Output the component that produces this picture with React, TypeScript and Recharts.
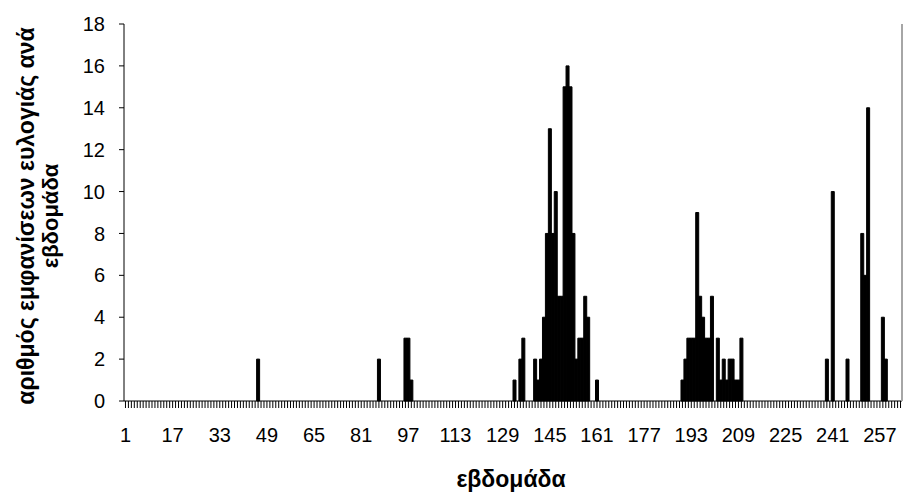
import { Bar, BarChart, Label, XAxis, YAxis } from "recharts";

const TOTAL_WEEKS = 264;

// weeks with at least one case; every other week is 0
const caseWeeks = [
  46, 87, 96, 97, 98, 133, 135, 136, 140, 141, 142, 143, 144, 145, 146, 147,
  148, 149, 150, 151, 152, 153, 154, 155, 156, 157, 158, 161, 190, 191, 192,
  193, 194, 195, 196, 197, 198, 199, 200, 202, 203, 204, 205, 206, 207, 208,
  209, 210, 239, 241, 246, 251, 252, 253, 258, 259,
];
const caseCounts = [
  2, 2, 3, 3, 1, 1, 2, 3, 2, 1, 2, 4, 8, 13, 8, 10,
  5, 5, 15, 16, 15, 8, 2, 3, 3, 5, 4, 1, 1, 2, 3,
  3, 3, 9, 5, 4, 3, 3, 5, 3, 1, 2, 1, 2, 2, 1,
  1, 3, 2, 10, 2, 8, 6, 14, 4, 2,
];
const yTicks = [0, 2, 4, 6, 8, 10, 12, 14, 16, 18];
const LABEL_EVERY = 16;

const yTitle = "αριθμός εμφανίσεων ευλογιάς ανά";
const yTitle2 = "εβδομάδα";
const xTitle = "εβδομάδα";

const FONT = "'Liberation Sans', Arial, sans-serif";

const chartData = Array.from({ length: TOTAL_WEEKS }, (_, i) => {
  const week = i + 1;
  const idx = caseWeeks.indexOf(week);
  return { week: String(week), count: idx >= 0 ? caseCounts[idx] : 0 };
});

function WeekTick(props: any) {
  const { x, y, payload, index } = props;
  if (index % LABEL_EVERY !== 0) return <g />;
  return (
    <text
      x={x}
      y={y}
      dy="0.71em"
      textAnchor="middle"
      fill="#000"
      fontSize={20}
      fontFamily={FONT}
    >
      {payload.value}
    </text>
  );
}

export default function App() {
  return (
    <div style={{ position: "absolute", left: 0, top: 0, background: "#fff" }}>
      <BarChart
        width={911}
        height={492}
        data={chartData}
        barCategoryGap={0}
        margin={{ top: 24, right: 8, left: 0, bottom: 0 }}
      >
        <XAxis
          dataKey="week"
          interval={0}
          tick={<WeekTick />}
          tickLine={{ stroke: "#000" }}
          axisLine={{ stroke: "#000" }}
          tickSize={7}
          tickMargin={20}
          height={91}
        >
          <Label
            content={() => (
              <text
                x={511}
                y={479}
                textAnchor="middle"
                dominantBaseline="central"
                fontSize={23}
                fontWeight="bold"
                fontFamily={FONT}
                fill="#000"
              >
                {xTitle}
              </text>
            )}
          />
        </XAxis>
        <YAxis
          yAxisId="l"
          domain={[0, 18]}
          ticks={yTicks}
          interval={0}
          width={124}
          tickSize={5}
          tickMargin={14}
          tickLine={{ stroke: "#000" }}
          axisLine={{ stroke: "#000" }}
          tick={{ fill: "#000", fontSize: 20, fontFamily: FONT }}
        >
          <Label
            content={() => (
              <g fontWeight="bold" fontFamily={FONT} fill="#000">
                <text
                  transform="translate(26,216) rotate(-90)"
                  textAnchor="middle"
                  dominantBaseline="central"
                  fontSize={23}
                >
                  {yTitle}
                </text>
                <text
                  transform="translate(50,216) rotate(-90)"
                  textAnchor="middle"
                  dominantBaseline="central"
                  fontSize={22}
                >
                  {yTitle2}
                </text>
              </g>
            )}
          />
        </YAxis>
        <YAxis
          yAxisId="r"
          orientation="right"
          domain={[0, 18]}
          width={1}
          tick={false}
          tickLine={false}
          axisLine={{ stroke: "#a6a6a6", strokeWidth: 2 }}
        />
        <Bar
          yAxisId="l"
          dataKey="count"
          fill="#000"
          stroke="#000"
          strokeWidth={1}
          isAnimationActive={false}
        />
      </BarChart>
    </div>
  );
}
